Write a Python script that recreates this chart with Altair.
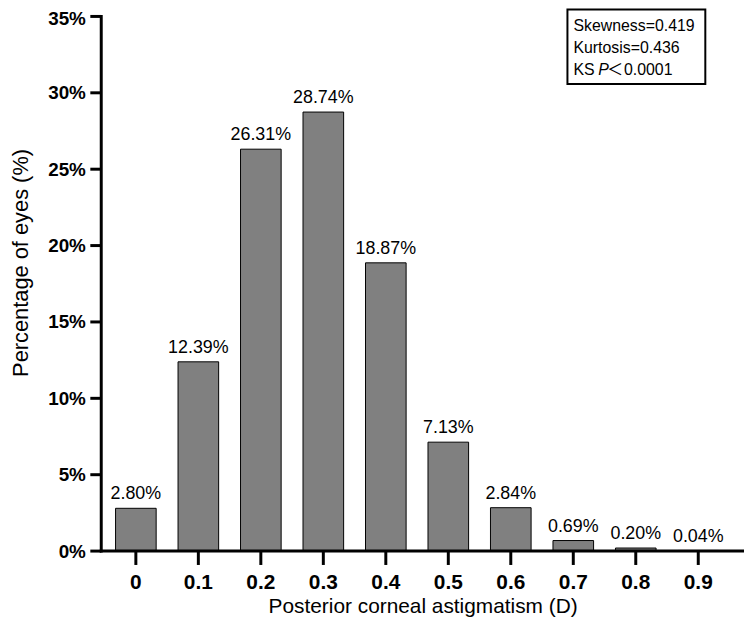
import altair as alt
import pandas as pd

categories = ["0", "0.1", "0.2", "0.3", "0.4", "0.5", "0.6", "0.7", "0.8", "0.9"]
percentages = [2.80, 12.39, 26.31, 28.74, 18.87, 7.13, 2.84, 0.69, 0.20, 0.04]
y_ticks = [0, 5, 10, 15, 20, 25, 30, 35]
stats_line1 = "Skewness=0.419"
stats_line2 = "Kurtosis=0.436"

FONT = "Liberation Sans"
W, H = 648, 539

df = pd.DataFrame({"cat": categories, "pct": percentages})
ticks_df = pd.DataFrame({"pct": y_ticks})
one = pd.DataFrame({"a": [0]})

x_scale = alt.Scale(paddingInner=0.35, paddingOuter=0.318, align=0.36)
y_scale = alt.Scale(domain=[0, 35], nice=False)

x_enc = alt.X(
    "cat:N",
    sort=None,
    scale=x_scale,
    axis=alt.Axis(
        title="Posterior corneal astigmatism (D)",
        labelAngle=0,
        labelFontSize=21,
        labelPadding=21,
        domain=False,
        ticks=False,
        titleFontSize=21,
        titleBaseline="alphabetic",
        titleY=62,
    ),
)

y_enc = alt.Y(
    "pct:Q",
    scale=y_scale,
    axis=alt.Axis(
        title="Percentage of eyes (%)",
        values=y_ticks,
        labelExpr="datum.value + '%'",
        labelFontSize=19,
        labelPadding=16,
        labelOffset={"condition": {"test": "datum.value == 35", "value": 2}, "value": 0},
        domain=False,
        ticks=False,
        grid=False,
        titleFontSize=22,
        titleX=-81,
        titleY=248,
        titleBaseline="middle",
    ),
)

bars = alt.Chart(df).mark_bar(
    color="#808080", stroke="black", strokeWidth=1
).encode(x=x_enc, y=y_enc)

labels = alt.Chart(df).transform_calculate(
    label="format(datum.pct, '.2f') + '%'"
).mark_text(
    font=FONT, fontSize=18, dy=-9, baseline="alphabetic", color="black"
).encode(x=alt.X("cat:N", sort=None), y=alt.Y("pct:Q"), text="label:N")

# axis lines and ticks
y_line = alt.Chart(one).mark_rule(color="black", strokeWidth=3, strokeCap="square").encode(
    x=alt.value(0), y=alt.value(0), y2=alt.value(H)
)
x_line = alt.Chart(one).mark_rule(color="black", strokeWidth=3, strokeCap="square").encode(
    x=alt.value(0), x2=alt.value(W), y=alt.value(H)
)
y_tick_marks = alt.Chart(ticks_df).mark_rule(color="black", strokeWidth=3).encode(
    y=alt.Y("pct:Q"), x=alt.value(-11), x2=alt.value(0)
)
x_tick_marks = alt.Chart(df).mark_rule(color="black", strokeWidth=3).encode(
    x=alt.X("cat:N", sort=None), y=alt.value(H), y2=alt.value(H + 14)
)

box = alt.Chart(one).mark_rect(
    fill="white", stroke="black", strokeWidth=2
).encode(
    x=alt.value(470), x2=alt.value(609), y=alt.value(-7), y2=alt.value(68)
)


def txt(s, x, y, **kw):
    props = dict(font=FONT, fontSize=16, align="left", baseline="alphabetic", color="black")
    props.update(kw)
    return alt.Chart(one).mark_text(text=s, **props).encode(x=alt.value(x), y=alt.value(y))


stats = [
    txt(stats_line1, 476, 15),
    txt(stats_line2, 476, 37),
    txt("KS", 476, 59),
    txt("P", 501, 59, fontStyle="italic"),
    txt("＜", 518, 59, font="Noto Sans CJK SC", align="center"),
    txt("0.0001", 527, 59),
]

chart = alt.layer(
    bars, labels, y_tick_marks, x_tick_marks, y_line, x_line, box, *stats
).properties(
    width=W,
    height=H,
    background="white",
    autosize=alt.AutoSizeParams(type="none"),
    padding={"left": 94, "top": 6, "right": 0, "bottom": 70},
).configure_view(stroke=None).configure_axis(
    labelFont=FONT,
    labelFontWeight="bold",
    labelColor="black",
    titleFont=FONT,
    titleFontWeight="normal",
    titleColor="black",
    grid=False,
)

chart.save("out.html", embed_options={"renderer": "svg", "actions": False})
